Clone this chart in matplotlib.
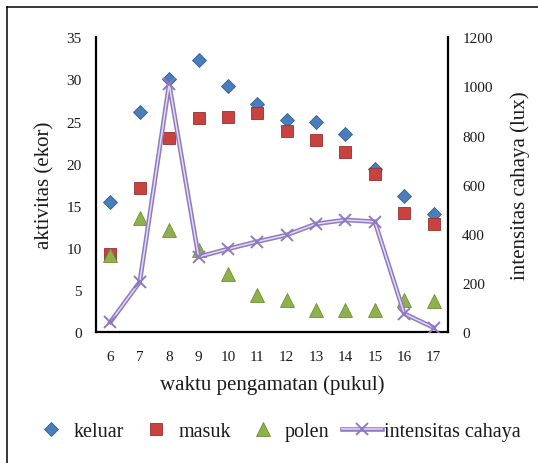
import matplotlib
matplotlib.use("Agg")
import matplotlib.pyplot as plt
from matplotlib.lines import Line2D
from matplotlib.legend_handler import HandlerTuple

# ---- data ----
hours = [6, 7, 8, 9, 10, 11, 12, 13, 14, 15, 16, 17]
keluar = [15.5, 26.1, 30.0, 32.3, 29.2, 27.1, 25.2, 25.0, 23.5, 19.4, 16.2, 14.0]
masuk = [9.3, 17.1, 23.0, 25.4, 25.5, 26.0, 23.9, 22.8, 21.4, 18.8, 14.2, 12.9]
polen = [9.2, 13.6, 12.1, 9.8, 6.9, 4.4, 3.8, 2.7, 2.7, 2.6, 3.8, 3.7]
intensitas = [42, 205, 1010, 307, 339, 369, 396, 441, 457, 450, 76, 19]

left_ticks = [0, 5, 10, 15, 20, 25, 30, 35]
right_ticks = [0, 200, 400, 600, 800, 1000, 1200]

series_labels = ["keluar", "masuk", "polen", "intensitas cahaya"]
xlabel = "waktu pengamatan (pukul)"
ylabel_left = "aktivitas (ekor)"
ylabel_right = "intensitas cahaya (lux)"

FONT = "Liberation Serif"
plt.rcParams["font.family"] = [FONT, "DejaVu Serif"]
TXT = "#1a1a1a"

fig = plt.figure(figsize=(5.38, 4.64), dpi=100)
W, H = 538, 464
ax = fig.add_axes([95.7 / W, 1 - 333.3 / H, (448.3 - 95.7) / W, (333.3 - 38.3) / H])
ax2 = ax.twinx()

c_blue, e_blue = "#4A7EBB", "#2F5F96"
c_red, e_red = "#C8423F", "#9A2E2C"
c_green, e_green = "#8DB24C", "#6E8F36"
c_purple = "#8F79C2"
c_inner = "#E4DCF1"

ax.plot(hours, keluar, linestyle="none", marker="D", ms=7, mfc=c_blue, mec=e_blue, mew=0.6, zorder=3)
ax.plot(hours, masuk, linestyle="none", marker="s", ms=9, mfc=c_red, mec=e_red, mew=0.6, zorder=3)
ax.plot(hours, polen, linestyle="none", marker="^", ms=9.5, mfc=c_green, mec=e_green, mew=0.6, zorder=3)

ax2.plot(hours, intensitas, color=c_purple, lw=3.3, solid_joinstyle="miter", zorder=3)
ax2.plot(hours, intensitas, color=c_inner, lw=1.1, zorder=4)
ax2.plot(hours, intensitas, linestyle="none", marker="x", ms=8, mew=1.4, color=c_purple, zorder=5)

ax.set_xlim(5.5, 17.5)
ax.set_ylim(0, 35)
ax2.set_ylim(0, 1200)
ax.set_xticks(hours)
ax.set_xticklabels([str(h) for h in hours])
ax.set_yticks(left_ticks)
ax2.set_yticks(right_ticks)

for a in (ax, ax2):
    a.tick_params(length=0, labelsize=11, labelcolor=TXT)
ax.tick_params(axis="y", pad=10)
ax.tick_params(axis="x", pad=13)
ax2.tick_params(axis="y", pad=10)

for s in ["top"]:
    ax.spines[s].set_visible(False)
for s in ["left", "bottom", "right"]:
    ax.spines[s].set_linewidth(1.6)
    ax.spines[s].set_color("black")
for s in ax2.spines.values():
    s.set_visible(False)

ax.set_xlabel(xlabel, fontsize=15, color=TXT, va="center")
ax.xaxis.set_label_coords(0.5, -0.176)
ax.set_ylabel(ylabel_left, fontsize=15, color=TXT, va="center")
ax.yaxis.set_label_coords(-0.144, 0.5)
ax2.set_ylabel(ylabel_right, fontsize=15, color=TXT, va="center", rotation=90)
ax2.yaxis.set_label_coords(1.205, 0.5)

# legend
h1 = Line2D([], [], linestyle="none", marker="D", ms=7, mfc=c_blue, mec=e_blue, mew=0.6)
h2 = Line2D([], [], linestyle="none", marker="s", ms=9, mfc=c_red, mec=e_red, mew=0.6)
h3 = Line2D([], [], linestyle="none", marker="^", ms=9.5, mfc=c_green, mec=e_green, mew=0.6)
h4a = Line2D([], [], color=c_purple, lw=3.3)
h4b = Line2D([], [], color=c_inner, lw=1.1)
h4c = Line2D([], [], linestyle="none", marker="x", ms=8, mew=1.4, color=c_purple)
fig.legend([h1, h2, h3, (h4a, h4b, h4c)], series_labels,
           handler_map={tuple: HandlerTuple(ndivide=1, pad=0)},
           loc="center", bbox_to_anchor=(0.513, 1 - 432 / H), ncol=4, frameon=False,
           handlelength=2.0, handletextpad=0.1, columnspacing=0.6,
           prop={"family": FONT, "size": 14.5}, labelcolor=TXT)

# outer border (cropped on right/bottom)
fig.add_artist(Line2D([7.3 / W, 7.3 / W], [0, 1 - 8 / H], transform=fig.transFigure, color="black", lw=1.1))
fig.add_artist(Line2D([7.3 / W, 1], [1 - 8 / H, 1 - 8 / H], transform=fig.transFigure, color="black", lw=1.1))

fig.savefig("out.png", dpi=100)
